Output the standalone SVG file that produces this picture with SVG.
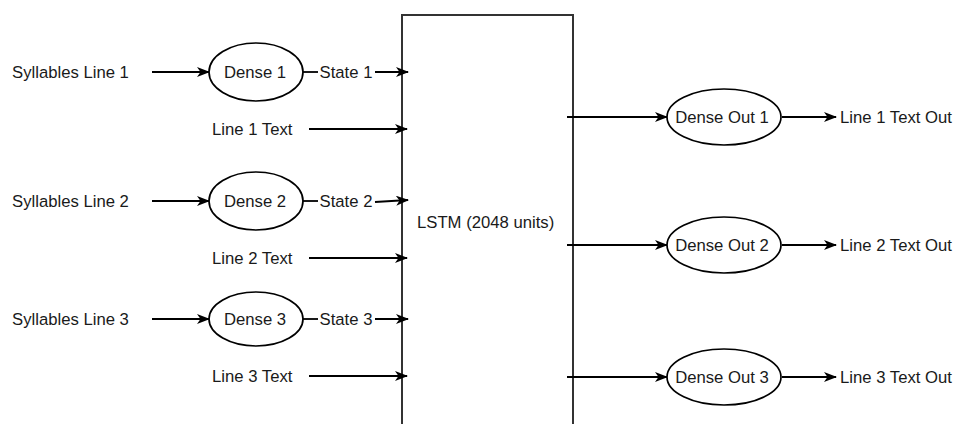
<svg xmlns="http://www.w3.org/2000/svg" width="957" height="424" viewBox="0 0 957 424">
  <defs>
    <marker id="arrow" viewBox="0 0 13 10" refX="12" refY="5" markerWidth="13" markerHeight="10" markerUnits="userSpaceOnUse" orient="auto">
      <path d="M0,0 L13,5 L0,10 L3.5,5 Z" fill="#000"/>
    </marker>
    <style>
      text { font-family: "Liberation Sans", Arial, sans-serif; font-size: 16.7px; fill: #1a1a1a; }
      .mid { text-anchor: middle; }
      .edge { fill: none; stroke: #000; stroke-width: 1.8; }
      .arrow { marker-end: url(#arrow); }
      .node ellipse { fill: #fff; stroke: #000; stroke-width: 1.7; }
      .block { fill: #fff; stroke: #333; stroke-width: 2; }
    </style>
  </defs>
  <rect width="957" height="424" fill="#fff"/>

  <!-- LSTM block -->
  <g id="lstm">
    <rect class="block" x="402" y="15" width="171" height="420"/>
    <text x="417" y="228">LSTM (2048 units)</text>
  </g>

  <!-- connectors -->
  <g id="connectors">
    <!-- syllable inputs into dense layers -->
    <line class="edge arrow" x1="152" y1="72" x2="209" y2="72"/>
    <line class="edge arrow" x1="152" y1="201" x2="209" y2="201"/>
    <line class="edge arrow" x1="152" y1="319" x2="209" y2="319"/>
    <!-- dense states into the LSTM -->
    <line class="edge" x1="303" y1="72" x2="318" y2="72"/>
    <line class="edge arrow" x1="375" y1="72" x2="408" y2="72"/>
    <line class="edge" x1="303" y1="201" x2="318" y2="201"/>
    <line class="edge arrow" x1="375" y1="202" x2="408" y2="200"/>
    <line class="edge" x1="303" y1="319" x2="318" y2="319"/>
    <line class="edge arrow" x1="375" y1="319" x2="408" y2="319"/>
    <!-- text inputs into the LSTM -->
    <line class="edge arrow" x1="309" y1="129" x2="407" y2="129"/>
    <line class="edge arrow" x1="309" y1="258" x2="407" y2="258"/>
    <line class="edge arrow" x1="309" y1="376" x2="407" y2="376"/>
    <!-- LSTM outputs into dense output layers -->
    <line class="edge arrow" x1="567" y1="117" x2="667" y2="117"/>
    <line class="edge arrow" x1="567" y1="245" x2="667" y2="245"/>
    <line class="edge arrow" x1="567" y1="377" x2="667" y2="377"/>
    <!-- dense outputs to text -->
    <line class="edge arrow" x1="782" y1="117" x2="836" y2="117"/>
    <line class="edge arrow" x1="782" y1="245" x2="836" y2="245"/>
    <line class="edge arrow" x1="782" y1="377" x2="836" y2="377"/>
  </g>

  <!-- input labels -->
  <g id="syllables-1"><text x="12" y="78">Syllables Line 1</text></g>
  <g id="syllables-2"><text x="12" y="207">Syllables Line 2</text></g>
  <g id="syllables-3"><text x="12" y="325">Syllables Line 3</text></g>
  <g id="line-1-text"><text x="212" y="135">Line 1 Text</text></g>
  <g id="line-2-text"><text x="212" y="264">Line 2 Text</text></g>
  <g id="line-3-text"><text x="212" y="382">Line 3 Text</text></g>
  <g id="state-1"><text class="mid" x="346" y="78">State 1</text></g>
  <g id="state-2"><text class="mid" x="346" y="207">State 2</text></g>
  <g id="state-3"><text class="mid" x="346" y="325">State 3</text></g>

  <!-- dense input layers -->
  <g id="dense-1" class="node">
    <ellipse cx="256" cy="72" rx="47" ry="29"/>
    <text class="mid" x="255" y="78">Dense 1</text>
  </g>
  <g id="dense-2" class="node">
    <ellipse cx="256" cy="201" rx="47" ry="29"/>
    <text class="mid" x="255" y="207">Dense 2</text>
  </g>
  <g id="dense-3" class="node">
    <ellipse cx="256" cy="319" rx="47" ry="27"/>
    <text class="mid" x="255" y="325">Dense 3</text>
  </g>

  <!-- dense output layers -->
  <g id="dense-out-1" class="node">
    <ellipse cx="724" cy="117" rx="57" ry="28"/>
    <text class="mid" x="722" y="123">Dense Out 1</text>
  </g>
  <g id="dense-out-2" class="node">
    <ellipse cx="724" cy="245" rx="57" ry="28"/>
    <text class="mid" x="722" y="251">Dense Out 2</text>
  </g>
  <g id="dense-out-3" class="node">
    <ellipse cx="724" cy="377" rx="57" ry="28"/>
    <text class="mid" x="722" y="383">Dense Out 3</text>
  </g>

  <!-- output labels -->
  <g id="line-1-out"><text x="840" y="123">Line 1 Text Out</text></g>
  <g id="line-2-out"><text x="840" y="251">Line 2 Text Out</text></g>
  <g id="line-3-out"><text x="840" y="383">Line 3 Text Out</text></g>
</svg>
